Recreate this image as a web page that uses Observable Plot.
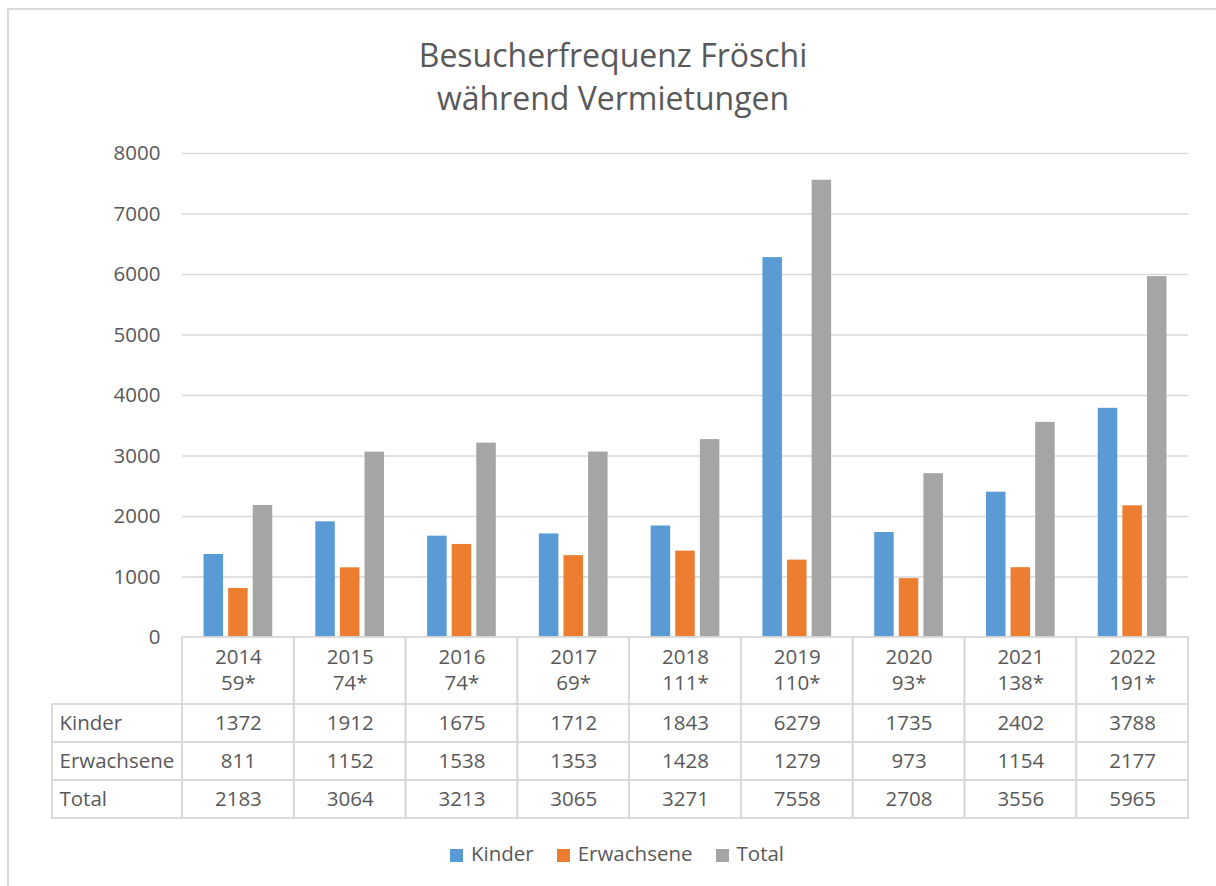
<!DOCTYPE html>
<html>
<head>
<meta charset="utf-8">
<script src="https://cdn.jsdelivr.net/npm/d3@7"></script>
<script src="https://cdn.jsdelivr.net/npm/@observablehq/plot@0.6"></script>
<style>
  html, body { margin: 0; padding: 0; overflow: hidden; background: #fff; width: 1216px; height: 886px; }
  #frame { position: absolute; left: 7px; top: 8px; width: 1300px; height: 1000px; border: 2px solid #d9d9d9; box-sizing: border-box; }
  #title { position: absolute; top: 33px; left: 0; width: 1226px; text-align: center; font-family: "Open Sans", sans-serif; font-size: 32px; line-height: 43px; color: #595959; }
  #chart { position: absolute; top: 130px; left: 0; }
  #legend { position: absolute; top: 839px; left: 0; width: 1234px; display: flex; justify-content: center; gap: 23px; font-family: "Open Sans", sans-serif; font-size: 20.5px; color: #595959; line-height: 28px; }
  #legend .sw { display: inline-block; width: 13px; height: 13px; margin-right: 8px; vertical-align: -1px; }
</style>
</head>
<body>
<div id="frame"></div>
<div id="title">Besucherfrequenz Fröschi<br>während Vermietungen</div>
<div id="chart"></div>
<div id="legend"></div>
<script>
// ---- data ----
const years = ["2014", "2015", "2016", "2017", "2018", "2019", "2020", "2021", "2022"];
const rentals = [59, 74, 74, 69, 111, 110, 93, 138, 191];
const kinder = [1372, 1912, 1675, 1712, 1843, 6279, 1735, 2402, 3788];
const erwachsene = [811, 1152, 1538, 1353, 1428, 1279, 973, 1154, 2177];
const total = [2183, 3064, 3213, 3065, 3271, 7558, 2708, 3556, 5965];
const seriesNames = ["Kinder", "Erwachsene", "Total"];
const seriesColors = ["#5B9BD5", "#ED7D31", "#A5A5A5"];
const yTicks = [0, 1000, 2000, 3000, 4000, 5000, 6000, 7000, 8000];

// ---- layout ----
const W = 1216, H = 690;
const mL = 182, mR = 28, mT = 23, mB = 2;
const plotPx = 484;                 // pixel height of 0..8000
const unit = 8000 / plotPx;         // data units per px
const tablePx = [0, 67, 105, 143, 181]; // table row edges (px below zero line)
const edges = tablePx.map(p => -p * unit);
const yMin = edges[edges.length - 1];
const bw = (W - mL - mR) / years.length;
const barW = 19.5, step = 24.6;
const labelColW = 130;
const textColor = "#595959";
const lineColor = "#d9d9d9";

const seriesValues = [kinder, erwachsene, total];
const barMarks = seriesValues.map((vals, s) => {
  const center = bw / 2 + (s - 1) * step;
  const left = center - barW / 2;
  const right = bw - (center + barW / 2);
  return Plot.barY(years.map((y, i) => ({year: y, value: vals[i]})), {
    x: "year", y: "value", fill: seriesColors[s], insetLeft: left, insetRight: right
  });
});

// table cells
const cells = [];
for (let r = 0; r < 4; r++) for (const y of years) cells.push({year: y, y1: edges[r], y2: edges[r + 1]});
const labelCells = [1, 2, 3].map(r => ({year: years[0], y1: edges[r], y2: edges[r + 1], name: seriesNames[r - 1]}));

const headerText = years.map((y, i) => ({year: y, text: `${y}\n${rentals[i]}*`}));
const valueText = [];
seriesValues.forEach((vals, s) => years.forEach((y, i) => valueText.push({year: y, v: String(vals[i]), yc: (edges[s + 1] + edges[s + 2]) / 2})));

const chart = Plot.plot({
  width: W, height: H,
  marginLeft: mL, marginRight: mR, marginTop: mT, marginBottom: mB,
  style: {fontFamily: "'Open Sans', sans-serif", fontSize: "20.5px", color: textColor, background: "transparent"},
  x: {type: "band", domain: years, padding: 0, round: false, axis: null},
  y: {domain: [yMin, 8000], axis: null},
  marks: [
    Plot.ruleY(yTicks.filter(d => d > 0), {stroke: lineColor, strokeWidth: 1.3}),
    Plot.axisY(yTicks, {tickSize: 0, tickPadding: 22, label: null, fontSize: 20.5, fill: textColor, tickFormat: d => String(d)}),
    ...barMarks,
    Plot.barY(cells, {x: "year", y1: "y1", y2: "y2", fill: "none", stroke: lineColor, strokeWidth: 1.8}),
    Plot.barY(labelCells, {x: "year", y1: "y1", y2: "y2", fill: "none", stroke: lineColor, strokeWidth: 1.8,
      insetLeft: -labelColW, insetRight: bw}),
    Plot.text(headerText, {x: "year", y: (edges[0] + edges[1]) / 2, text: "text", lineHeight: 1.27, fill: textColor, fontSize: 20.5, dy: -2}),
    Plot.text(valueText, {x: "year", y: "yc", text: "v", fill: textColor, fontSize: 20.5}),
    Plot.text(labelCells, {x: "year", y: d => (d.y1 + d.y2) / 2, text: "name", textAnchor: "start",
      dx: -bw / 2 - labelColW + 7, fill: textColor, fontSize: 20.5})
  ]
});
document.getElementById("chart").appendChild(chart);

// legend
const legend = document.getElementById("legend");
seriesNames.forEach((n, i) => {
  const item = document.createElement("span");
  item.innerHTML = `<span class="sw" style="background:${seriesColors[i]}"></span>${n}`;
  legend.appendChild(item);
});
</script>
</body>
</html>
